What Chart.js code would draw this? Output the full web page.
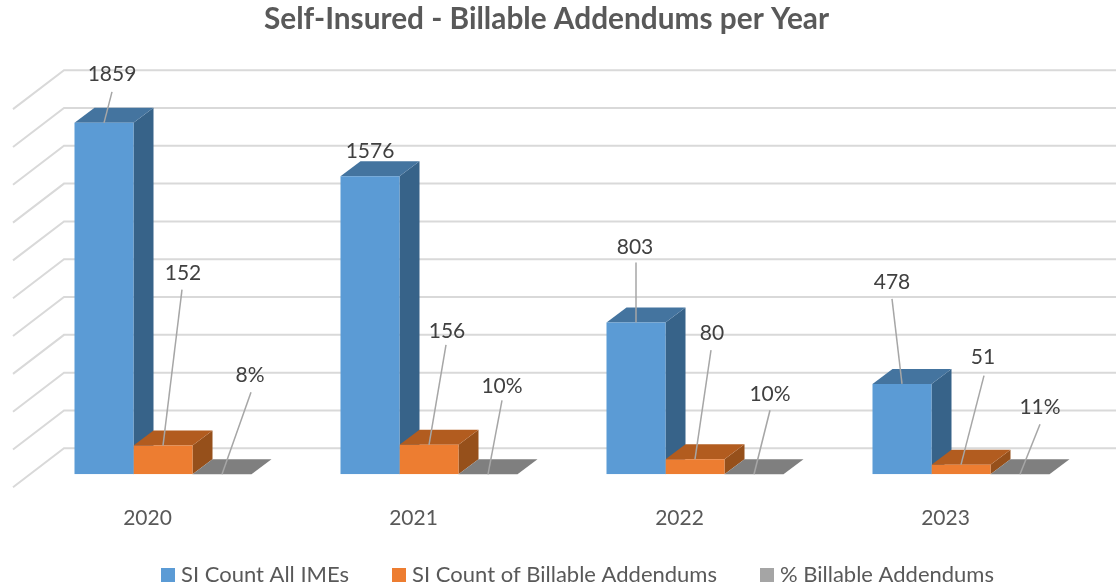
<!DOCTYPE html>
<html>
<head>
<meta charset="utf-8">
<style>html,body{margin:0;padding:0;background:#fff}#wrap{width:1116px;height:587px}</style>
<script src="https://cdn.jsdelivr.net/npm/chart.js@4"></script>
</head>
<body>
<div id="wrap"><canvas id="c" width="1116" height="587"></canvas></div>
<script>
const categories = ['2020', '2021', '2022', '2023'];
const siCountAllImes = [1859, 1576, 803, 478];
const siCountBillable = [152, 156, 80, 51];
const pctBillable = [0.08, 0.10, 0.10, 0.11];
const pctLabels = ['8%', '10%', '10%', '11%'];
const seriesNames = ['SI Count All IMEs', 'SI Count of Billable Addendums', '% Billable Addendums'];

const FONT = 'Lato, Carlito, sans-serif';
const faces = [
  {front:'#5B9BD5', top:'#44749F', side:'#376389', swatch:'#5B9BD5'},
  {front:'#ED7D31', top:'#B25C1F', side:'#96501B', swatch:'#ED7D31'},
  {front:'#7F7F7F', top:'#7F7F7F', side:'#6B6B6B', swatch:'#A5A5A5'}
];
// leader end and label centre, relative to the top-centre of each bar's front face
const leaders = [
  [{ex:8,ey:-31,tx:8,ty:-49},{ex:0,ey:0,tx:0,ty:-25},{ex:0,ey:-60,tx:-1,ty:-75},{ex:-10,ey:-85,tx:-10,ty:-102}],
  [{ex:19,ey:-156,tx:20,ty:-172},{ex:17,ey:-100,tx:18,ty:-114},{ex:16,ey:-109,tx:17,ty:-126},{ex:23,ey:-89,tx:22,ty:-107}],
  [{ex:29,ey:-82,tx:28,ty:-99},{ex:14,ey:-74,tx:14,ty:-88},{ex:16,ey:-64,tx:16,ty:-80},{ex:20,ey:-50,tx:20,ty:-67}]
];
const DEPTH = {dx:20, dy:-15};           // bar depth
const WALL = {fx:-17, fy:13, bx:34, by:-26}; // floor front / back relative to bar plane

function swatch(color){
  const s = document.createElement('canvas');
  s.width = 14; s.height = 14;
  const g = s.getContext('2d');
  g.fillStyle = color; g.fillRect(0,0,14,14);
  return s;
}
function poly(ctx, pts, fill){
  ctx.beginPath();
  pts.forEach((p,i)=> i ? ctx.lineTo(p[0],p[1]) : ctx.moveTo(p[0],p[1]));
  ctx.closePath();
  ctx.fillStyle = fill;
  ctx.fill();
}

const plot3d = {
  id:'plot3d',
  afterLayout(chart){
    const t = chart.titleBlock, l = chart.legend;
    t.left = -11.5; t.right = chart.width - 11.5;
    t.top = 2;
    l.left = 118; l.right = chart.width;
    l.top = 516; l.bottom = chart.height;
  },
  beforeDatasetsDraw(chart){
    const {ctx, chartArea:a, scales:{y}} = chart;
    ctx.save();
    ctx.strokeStyle = '#D9D9D9';
    ctx.lineWidth = 2;
    y.ticks.forEach(t=>{
      const py = y.getPixelForValue(t.value);
      ctx.beginPath();
      ctx.moveTo(a.left+WALL.fx, py+WALL.fy);
      ctx.lineTo(a.left+WALL.bx, py+WALL.by);
      ctx.lineTo(a.right+WALL.bx, py+WALL.by);
      ctx.stroke();
    });
    chart.data.datasets.forEach((ds,i)=>{
      chart.getDatasetMeta(i).data.forEach(b=>{
        const L=b.x-b.width/2, R=b.x+b.width/2, T=b.y, B=b.base, d=DEPTH;
        poly(ctx,[[R,T],[R+d.dx,T+d.dy],[R+d.dx,B+d.dy],[R,B]],faces[i].side);
        poly(ctx,[[L,T],[L+d.dx,T+d.dy],[R+d.dx,T+d.dy],[R,T]],faces[i].top);
      });
    });
    ctx.restore();
  },
  afterDatasetsDraw(chart){
    const {ctx} = chart;
    ctx.save();
    ctx.font = '21px '+FONT;
    ctx.textAlign='center'; ctx.textBaseline='middle';
    chart.data.datasets.forEach((ds,i)=>{
      chart.getDatasetMeta(i).data.forEach((b,j)=>{
        const o = leaders[i][j];
        if(o.ey){
          ctx.strokeStyle='#A6A6A6'; ctx.lineWidth=1.5;
          ctx.beginPath();
          ctx.moveTo(b.x,b.y);
          ctx.lineTo(b.x+o.ex,b.y+o.ey);
          ctx.stroke();
        }
        ctx.fillStyle='#404040';
        ctx.fillText(i===2?pctLabels[j]:String(ds.data[j]), b.x+o.tx, b.y+o.ty);
      });
    });
    ctx.restore();
  }
};

new Chart(document.getElementById('c'),{
  type:'bar',
  data:{
    labels:categories,
    datasets:[
      {label:seriesNames[0],data:siCountAllImes,backgroundColor:faces[0].front},
      {label:seriesNames[1],data:siCountBillable,backgroundColor:faces[1].front},
      {label:seriesNames[2],data:pctBillable,backgroundColor:faces[2].front}
    ]
  },
  plugins:[plot3d],
  options:{
    responsive:false,
    animation:false,
    devicePixelRatio:1,
    layout:{padding:{left:30,right:22,top:50.4,bottom:-46.5}},
    datasets:{bar:{barPercentage:1,categoryPercentage:177/266,borderWidth:0}},
    scales:{
      x:{
        grid:{display:false},
        border:{display:false},
        ticks:{labelOffset:-15.5,padding:23,maxRotation:0,font:{family:FONT,size:21},color:'#595959'}
      },
      y:{
        display:false,
        min:0,max:2000,
        ticks:{stepSize:200}
      }
    },
    plugins:{
      tooltip:{enabled:false},
      title:{
        display:true,
        text:'Self-Insured - Billable Addendums per Year',
        color:'#595959',
        font:{family:FONT,size:29.8,weight:'bold'},
        padding:{top:0,bottom:10}
      },
      legend:{
        display:true,
        position:'bottom',
        align:'start',
        labels:{
          color:'#595959',
          font:{family:FONT,size:22},
          usePointStyle:true,
          pointStyleWidth:4,
          padding:48,
          generateLabels(chart){
            return chart.data.datasets.map((ds,i)=>({
              text:ds.label,datasetIndex:i,fontColor:'#595959',
              pointStyle:swatch(faces[i].swatch),lineWidth:0,strokeStyle:'transparent',fillStyle:faces[i].swatch
            }));
          }
        }
      }
    }
  }
});
</script>
</body>
</html>
